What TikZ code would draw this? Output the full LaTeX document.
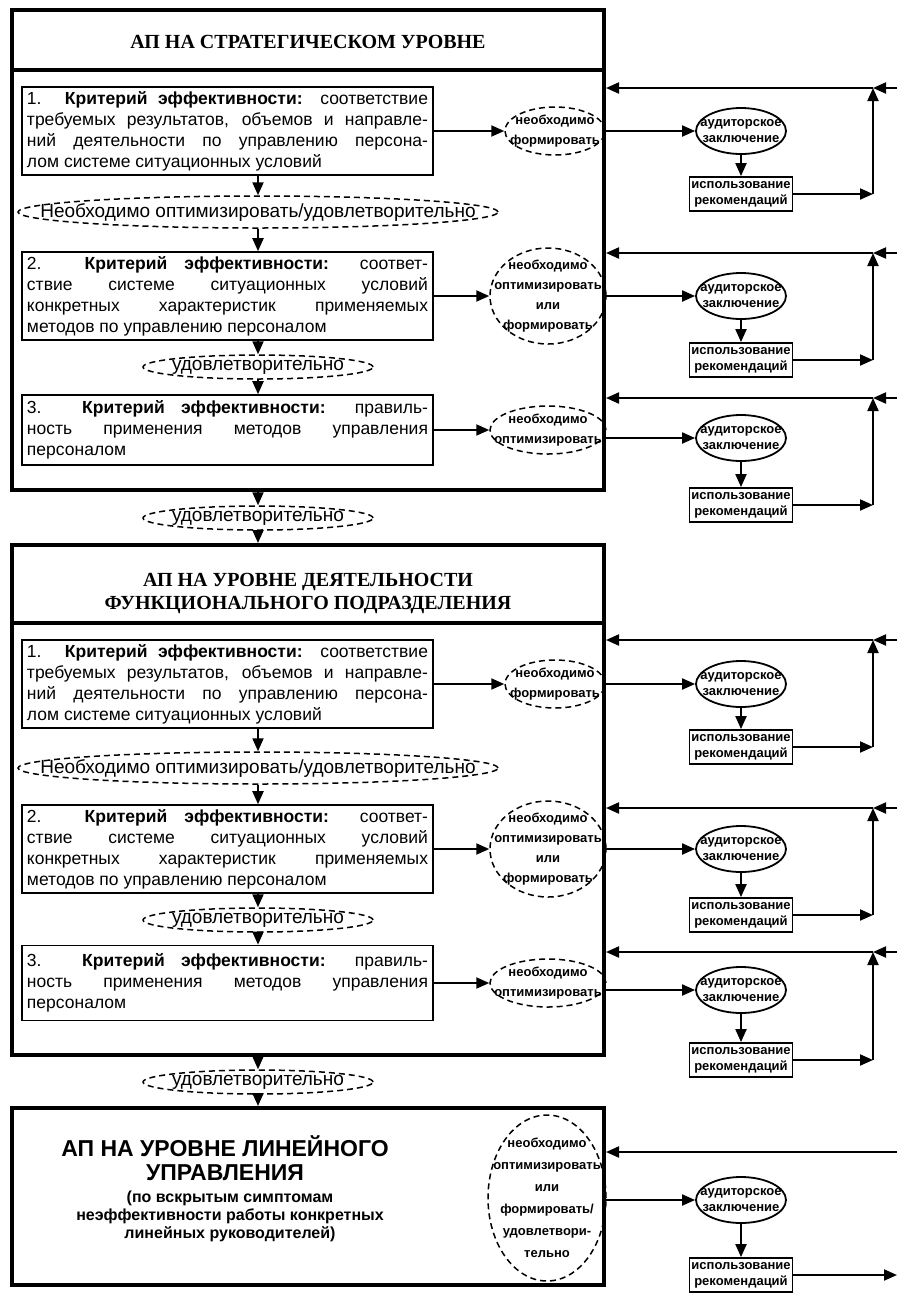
\documentclass[tikz,border=0pt]{standalone}
\usepackage{fontspec}
\setmainfont{Liberation Serif}
\setsansfont{Liberation Sans}
\usetikzlibrary{arrows.meta, positioning, shapes.geometric, calc}

\begin{document}
\begin{tikzpicture}[x=1pt, y=-1pt]
    % Define styles
    \tikzstyle{stage} = [rectangle, draw, line width=4pt, inner sep=0pt]
    \tikzstyle{heading} = [align=center, font=\bfseries\fontsize{20}{23}\selectfont]
    \tikzstyle{crit} = [rectangle, draw, line width=1.6pt, text width=401pt, inner xsep=5pt, inner ysep=2pt, align=justify, font=\sffamily\fontsize{17.5}{21}\selectfont]
    \tikzstyle{need} = [ellipse, draw, dash pattern=on 6pt off 4pt, line width=1.5pt, inner sep=-40pt, align=center, font=\sffamily\bfseries\fontsize{13}{20}\selectfont]
    \tikzstyle{pass} = [ellipse, draw, dash pattern=on 6pt off 4pt, line width=1.5pt, inner sep=-60pt, font=\sffamily\fontsize{19}{21}\selectfont]
    \tikzstyle{audit} = [ellipse, draw, line width=1.8pt, inner sep=-40pt, minimum width=90pt, minimum height=46pt, align=center, font=\sffamily\bfseries\fontsize{13}{16}\selectfont]
    \tikzstyle{usage} = [rectangle, draw, line width=1.8pt, inner sep=2pt, minimum width=98pt, minimum height=34pt, align=center, font=\sffamily\bfseries\fontsize{13}{16}\selectfont]
    \tikzstyle{line} = [draw, line width=2pt]
    \tikzstyle{flow} = [line, -{Triangle[length=13pt, width=11pt]}]

    % Page frame
    \fill[white] (0,0) rectangle (897,1310);
    \useasboundingbox (0,0) rectangle (897,1310);

    % ---------------- Strategic level ----------------
    \node[stage, minimum width=592pt, minimum height=480pt] (S1) at (308,250) {};
    \node[heading] (T1) at (308,42) {АП НА СТРАТЕГИЧЕСКОМ УРОВНЕ};
    \draw[line width=4pt] ([yshift=-62pt]S1.north west) -- ([yshift=-62pt]S1.north east);

    \node[crit, minimum height=88pt] (C1) at (227.5,131) {1. \textbf{Критерий эффективности:} соответствие\linebreak требуемых результатов, объемов и направле-\linebreak ний деятельности по управлению персона-\linebreak лом системе ситуационных условий};
    \node[pass, minimum width=480pt, minimum height=32pt] (W1) at (258,212) {Необходимо оптимизировать/удовлетворительно};
    \node[crit, minimum height=88pt] (C2) at (227.5,296) {2. \textbf{Критерий эффективности:} соответ-\linebreak ствие системе ситуационных условий\linebreak конкретных характеристик применяемых\linebreak методов по управлению персоналом};
    \node[pass, minimum width=230pt, minimum height=24pt] (P2) at (258,367) {удовлетворительно};
    \node[crit, minimum height=70pt] (C3) at (227.5,430) {3. \textbf{Критерий эффективности:} правиль-\linebreak ность применения методов управления\linebreak персоналом};

    \node[need, minimum width=100pt, minimum height=48pt] (N1) at (555,131) {необходимо\\формировать};
    \node[need, minimum width=116pt, minimum height=96pt] (N2) at (548,296) {необходимо\\оптимизировать\\или\\формировать};
    \node[need, minimum width=116pt, minimum height=48pt] (N3) at (548,430) {необходимо\\оптимизировать};

    % Flow inside the strategic level
    \draw[flow] (C1.south -| W1) -- (W1.north);
    \draw[flow] (W1.south) -- (C2.north -| W1);
    \draw[flow] (C2.south -| P2) -- (P2.north);
    \draw[flow] (P2.south) -- (C3.north -| P2);
    \draw[flow] (C1) -- (N1);
    \draw[flow] (C2) -- (N2);
    \draw[flow] (C3) -- (N3);

    % Audit loops of the strategic level
    \node[audit] (A1) at (741,131) {аудиторское\\заключение};
    \node[usage] (U1) at (741,194) {использование\\рекомендаций};
    \coordinate (J1) at (873,88);
    \coordinate (E1) at (897,88);
    \draw[flow] (S1.east |- A1) -- (A1);
    \draw[flow] (A1) -- (U1);
    \draw[flow] (U1.east) -- (U1.east -| J1);
    \draw[flow] (U1.east -| J1) -- (J1);
    \draw[flow] (E1) -- (J1);
    \draw[flow] (J1) -- (S1.east |- J1);

    \node[audit] (A2) at (741,296) {аудиторское\\заключение};
    \node[usage] (U2) at (741,360) {использование\\рекомендаций};
    \coordinate (J2) at (873,253);
    \coordinate (E2) at (897,253);
    \draw[flow] (S1.east |- A2) -- (A2);
    \draw[flow] (A2) -- (U2);
    \draw[flow] (U2.east) -- (U2.east -| J2);
    \draw[flow] (U2.east -| J2) -- (J2);
    \draw[flow] (E2) -- (J2);
    \draw[flow] (J2) -- (S1.east |- J2);

    \node[audit] (A3) at (741,438) {аудиторское\\заключение};
    \node[usage] (U3) at (741,505) {использование\\рекомендаций};
    \coordinate (J3) at (873,398);
    \coordinate (E3) at (897,398);
    \draw[flow] (S1.east |- A3) -- (A3);
    \draw[flow] (A3) -- (U3);
    \draw[flow] (U3.east) -- (U3.east -| J3);
    \draw[flow] (U3.east -| J3) -- (J3);
    \draw[flow] (E3) -- (J3);
    \draw[flow] (J3) -- (S1.east |- J3);

    % Transition to the next level
    \node[pass, minimum width=230pt, minimum height=24pt] (P1) at (258,518) {удовлетворительно};
    \draw[flow] (S1.south -| P1) -- (P1.north);

    % ---------------- Functional unit level ----------------
    \node[stage, minimum width=592pt, minimum height=510pt] (S2) at (308,800) {};
    \node[heading] (T2) at (308,594) {АП НА УРОВНЕ ДЕЯТЕЛЬНОСТИ\\ФУНКЦИОНАЛЬНОГО ПОДРАЗДЕЛЕНИЯ};
    \draw[line width=4pt] ([yshift=-80pt]S2.north west) -- ([yshift=-80pt]S2.north east);
    \draw[flow] (P1.south) -- (S2.north -| P1);

    \node[crit, minimum height=88pt] (C4) at (227.5,684) {1. \textbf{Критерий эффективности:} соответствие\linebreak требуемых результатов, объемов и направле-\linebreak ний деятельности по управлению персона-\linebreak лом системе ситуационных условий};
    \node[pass, minimum width=480pt, minimum height=32pt] (W2) at (258,768) {Необходимо оптимизировать/удовлетворительно};
    \node[crit, minimum height=88pt] (C5) at (227.5,849) {2. \textbf{Критерий эффективности:} соответ-\linebreak ствие системе ситуационных условий\linebreak конкретных характеристик применяемых\linebreak методов по управлению персоналом};
    \node[pass, minimum width=230pt, minimum height=24pt] (P4) at (258,920) {удовлетворительно};
    \node[crit, minimum height=75pt] (C6) at (227.5,983) {3. \textbf{Критерий эффективности:} правиль-\linebreak ность применения методов управления\linebreak персоналом};

    \node[need, minimum width=100pt, minimum height=48pt] (N4) at (555,684) {необходимо\\формировать};
    \node[need, minimum width=116pt, minimum height=96pt] (N5) at (548,849) {необходимо\\оптимизировать\\или\\формировать};
    \node[need, minimum width=116pt, minimum height=48pt] (N6) at (548,983) {необходимо\\оптимизировать};

    % Flow inside the functional unit level
    \draw[flow] (C4.south -| W2) -- (W2.north);
    \draw[flow] (W2.south) -- (C5.north -| W2);
    \draw[flow] (C5.south -| P4) -- (P4.north);
    \draw[flow] (P4.south) -- (C6.north -| P4);
    \draw[flow] (C4) -- (N4);
    \draw[flow] (C5) -- (N5);
    \draw[flow] (C6) -- (N6);

    % Audit loops of the functional unit level
    \node[audit] (A4) at (741,684) {аудиторское\\заключение};
    \node[usage] (U4) at (741,747) {использование\\рекомендаций};
    \coordinate (J4) at (873,640);
    \coordinate (E4) at (897,640);
    \draw[flow] (S2.east |- A4) -- (A4);
    \draw[flow] (A4) -- (U4);
    \draw[flow] (U4.east) -- (U4.east -| J4);
    \draw[flow] (U4.east -| J4) -- (J4);
    \draw[flow] (E4) -- (J4);
    \draw[flow] (J4) -- (S2.east |- J4);

    \node[audit] (A5) at (741,849) {аудиторское\\заключение};
    \node[usage] (U5) at (741,915) {использование\\рекомендаций};
    \coordinate (J5) at (873,808);
    \coordinate (E5) at (897,808);
    \draw[flow] (S2.east |- A5) -- (A5);
    \draw[flow] (A5) -- (U5);
    \draw[flow] (U5.east) -- (U5.east -| J5);
    \draw[flow] (U5.east -| J5) -- (J5);
    \draw[flow] (E5) -- (J5);
    \draw[flow] (J5) -- (S2.east |- J5);

    \node[audit] (A6) at (741,990) {аудиторское\\заключение};
    \node[usage] (U6) at (741,1060) {использование\\рекомендаций};
    \coordinate (J6) at (873,952);
    \coordinate (E6) at (897,952);
    \draw[flow] (S2.east |- A6) -- (A6);
    \draw[flow] (A6) -- (U6);
    \draw[flow] (U6.east) -- (U6.east -| J6);
    \draw[flow] (U6.east -| J6) -- (J6);
    \draw[flow] (E6) -- (J6);
    \draw[flow] (J6) -- (S2.east |- J6);

    % Transition to the last level
    \node[pass, minimum width=230pt, minimum height=24pt] (P5) at (258,1082) {удовлетворительно};
    \draw[flow] (S2.south -| P5) -- (P5.north);

    % ---------------- Line management level ----------------
    \node[stage, minimum width=592pt, minimum height=177pt] (S3) at (308,1196.5) {};
    \draw[flow] (P5.south) -- (S3.north -| P5);
    \node[heading, font=\sffamily\bfseries\fontsize{23}{24}\selectfont] (T3) at (225,1158) {АП НА УРОВНЕ ЛИНЕЙНОГО\\УПРАВЛЕНИЯ};
    \node[align=center, font=\sffamily\bfseries\fontsize{16}{18}\selectfont] (D3) at (230,1216) {(по вскрытым симптомам\\неэффективности работы конкретных\\линейных руководителей)};
    \node[need, minimum width=118pt, minimum height=166pt, font=\sffamily\bfseries\fontsize{13}{22}\selectfont] (N7) at (547,1198) {необходимо\\оптимизировать\\или\\формировать/\\удовлетвори-\\тельно};

    \node[audit] (A7) at (741,1200) {аудиторское\\заключение};
    \node[usage] (U7) at (741,1275) {использование\\рекомендаций};
    \coordinate (E7) at (897,1152);
    \coordinate (F7) at (897,1275);
    \draw[flow] (S3.east |- A7) -- (A7);
    \draw[flow] (A7) -- (U7);
    \draw[flow] (U7.east) -- (F7);
    \draw[flow] (E7) -- (S3.east |- E7);

\end{tikzpicture}
\end{document}
